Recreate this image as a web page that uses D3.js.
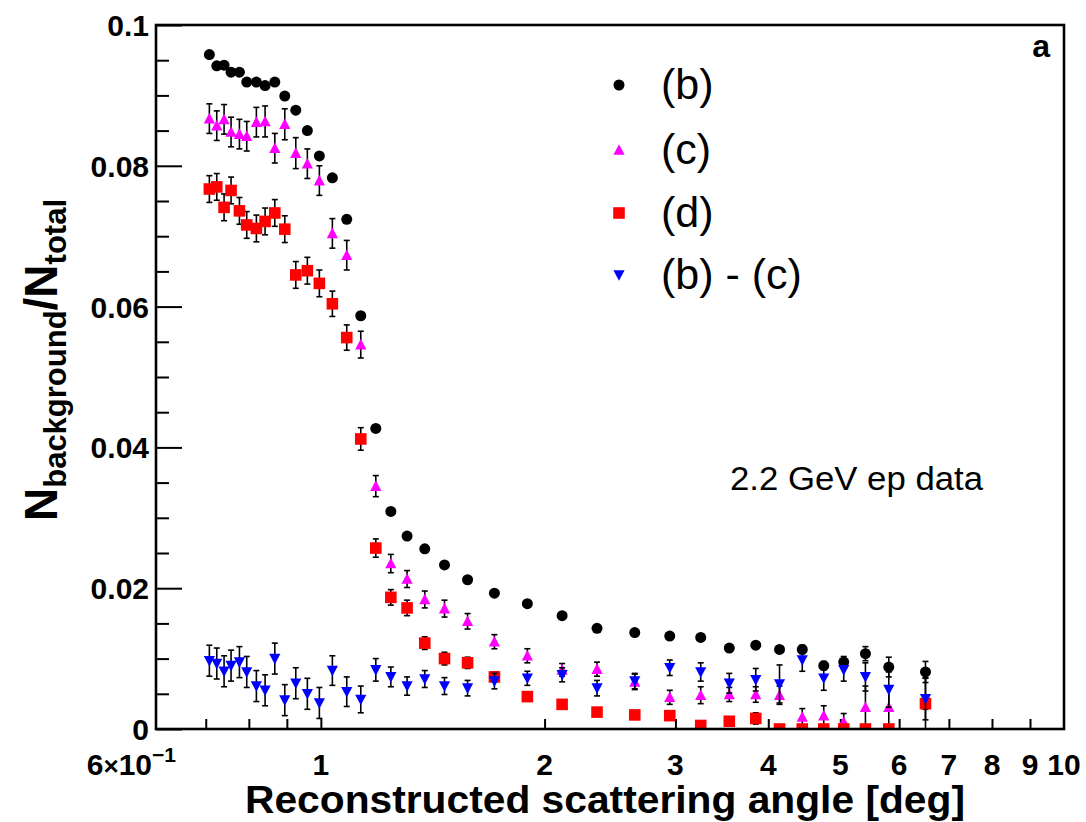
<!DOCTYPE html>
<html>
<head>
<meta charset="utf-8">
<script src="https://cdn.jsdelivr.net/npm/d3@7"></script>
<style>
  html, body { margin: 0; padding: 0; background: #fff; }
  svg { display: block; }
  text { font-family: "Liberation Sans", Arial, Helvetica, sans-serif; }
</style>
</head>
<body>
<svg id="chart" width="1086" height="822"></svg>
<script>
// Reconstructed scattering angle bins [deg]
const angles = [0.7079, 0.7243, 0.7409, 0.7571, 0.7770, 0.7948, 0.8189, 0.8413, 0.8670, 0.8942,
  0.9252, 0.9590, 0.9954, 1.0363, 1.0835, 1.1316, 1.1856, 1.2421, 1.3062, 1.3798,
  1.4668, 1.5755, 1.7122, 1.8961, 2.1117, 2.3530, 2.6448, 2.9477, 3.2445, 3.5449,
  3.8478, 4.1419, 4.4444, 4.7501, 5.0534, 5.4050, 5.8104, 6.5103];

// (b)
const ratioB = [0.0958, 0.0942, 0.0943, 0.0933, 0.0933, 0.0919, 0.0919, 0.0914, 0.0919, 0.0899,
  0.0879, 0.0850, 0.0814, 0.0783, 0.0724, 0.0587, 0.0427, 0.0309, 0.0274, 0.0256,
  0.0233, 0.0212, 0.0193, 0.0178, 0.0161, 0.0143, 0.0137, 0.0132, 0.0130, 0.0115,
  0.0119, 0.0113, 0.0113, 0.0090, 0.0095, 0.0107, 0.0088, 0.0081];
const errB = [0.0003, 0.0003, 0.0003, 0.0003, 0.0003, 0.0003, 0.0003, 0.0003, 0.0003, 0.0003,
  0.0003, 0.0003, 0.0003, 0.0003, 0.0003, 0.0003, 0.0003, 0.0003, 0.0003, 0.0003,
  0.0003, 0.0003, 0.0003, 0.0003, 0.0003, 0.0003, 0.0003, 0.0003, 0.0003, 0.0004,
  0.0004, 0.0005, 0.0006, 0.0006, 0.0008, 0.0010, 0.0014, 0.0015];

// (c)
const ratioC = [0.0867, 0.0857, 0.0866, 0.0848, 0.0845, 0.0842, 0.0862, 0.0863, 0.0825, 0.0859,
  0.0818, 0.0803, 0.0779, 0.0704, 0.0673, 0.0546, 0.0345, 0.0235, 0.0213, 0.0184,
  0.0171, 0.0153, 0.0124, 0.0104, 0.0084, 0.0085, 0.0067, 0.0045, 0.0048, 0.0049,
  0.0049, 0.0048, 0.0017, 0.0019, 0.0010, 0.0031, 0.0031, 0.0036];
const errC = [0.0021, 0.0021, 0.0021, 0.0021, 0.0021, 0.0021, 0.0021, 0.0022, 0.0021, 0.0022,
  0.0022, 0.0021, 0.0021, 0.0021, 0.0021, 0.0019, 0.0015, 0.0013, 0.0012, 0.0012,
  0.0012, 0.0011, 0.0010, 0.0010, 0.0009, 0.0010, 0.0011, 0.0010, 0.0012, 0.0010,
  0.0011, 0.0013, 0.0012, 0.0014, 0.0012, 0.0030, 0.0030, 0.0036];

// (d)
const ratioD = [0.0767, 0.0770, 0.0741, 0.0765, 0.0736, 0.0716, 0.0711, 0.0721, 0.0733, 0.0710,
  0.0645, 0.0651, 0.0633, 0.0604, 0.0556, 0.0412, 0.0257, 0.0187, 0.0172, 0.0122,
  0.0100, 0.0094, 0.0074, 0.0046, 0.0035, 0.0024, 0.0020, 0.0019, 0.0005, 0.0011,
  0.0015, 0.0000, 0.0000, 0.0000, 0.0000, 0.0000, 0.0000, 0.0036];
const errD = [0.0019, 0.0019, 0.0019, 0.0019, 0.0019, 0.0019, 0.0019, 0.0019, 0.0019, 0.0019,
  0.0019, 0.0019, 0.0019, 0.0018, 0.0018, 0.0016, 0.0013, 0.0011, 0.0011, 0.0009,
  0.0009, 0.0008, 0.0007, 0.0005, 0.0005, 0.0005, 0.0005, 0.0005, 0.0005, 0.0005,
  0.0008, 0.0004, 0.0004, 0.0004, 0.0004, 0.0004, 0.0004, 0.0008];

// (b) - (c)
const ratioBC = [0.0097, 0.0093, 0.0082, 0.0090, 0.0095, 0.0081, 0.0061, 0.0055, 0.0100, 0.0041,
  0.0065, 0.0050, 0.0037, 0.0083, 0.0053, 0.0042, 0.0084, 0.0074, 0.0061, 0.0071,
  0.0061, 0.0058, 0.0068, 0.0072, 0.0077, 0.0058, 0.0068, 0.0087, 0.0081, 0.0065,
  0.0070, 0.0064, 0.0098, 0.0072, 0.0084, 0.0074, 0.0056, 0.0043];
const errBC = [0.0022, 0.0022, 0.0022, 0.0022, 0.0022, 0.0022, 0.0022, 0.0022, 0.0022, 0.0022,
  0.0022, 0.0022, 0.0022, 0.0021, 0.0021, 0.0019, 0.0016, 0.0014, 0.0013, 0.0012,
  0.0012, 0.0011, 0.0011, 0.0010, 0.0010, 0.0011, 0.0011, 0.0011, 0.0013, 0.0014,
  0.0016, 0.0027, 0.0016, 0.0017, 0.0016, 0.0020, 0.0025, 0.0030];

const seriesNames = ["(b)", "(c)", "(d)", "(b) - (c)"];
const seriesColors = ["#000000", "#ff00ff", "#ff0000", "#0000ff"];
const seriesShapes = ["circle", "triangle", "square", "invtriangle"];
const xTickLabels = ["1", "2", "3", "4", "5", "6", "7", "8", "9", "10"];
const yTickLabels = ["0", "0.02", "0.04", "0.06", "0.08", "0.1"];

const margin = { left: 156, right: 1064, top: 25, bottom: 729 };
const svg = d3.select("#chart");

const x = d3.scaleLog().domain([0.6, 10]).range([margin.left, margin.right]);
const y = d3.scaleLinear().domain([0, 0.1]).range([margin.bottom, margin.top]);

svg.append("rect").attr("width", 1086).attr("height", 822).attr("fill", "#fff");

svg.append("defs").append("clipPath").attr("id", "plotclip")
  .append("rect")
  .attr("x", margin.left).attr("y", margin.top)
  .attr("width", margin.right - margin.left).attr("height", margin.bottom - margin.top);

// ---- axes ----
const yMinor = d3.range(0, 0.1001, 0.005);
const yAxis = d3.axisRight(y)
  .tickValues(yMinor)
  .tickFormat("")
  .tickSizeOuter(0);
const gy = svg.append("g").attr("transform", `translate(${margin.left},0)`).call(yAxis);
gy.select(".domain").remove();
gy.selectAll(".tick line")
  .attr("x2", d => (Math.round(d * 1000) % 20 === 0 ? 26 : 13))
  .attr("stroke", "#000").attr("stroke-width", 2);

const xMinor = [0.7, 0.8, 0.9, 1, 2, 3, 4, 5, 6, 7, 8, 9];
const xAxis = d3.axisTop(x).tickValues(xMinor).tickFormat("").tickSizeOuter(0);
const gx = svg.append("g").attr("transform", `translate(0,${margin.bottom})`).call(xAxis);
gx.select(".domain").remove();
gx.selectAll(".tick line").attr("y2", -10).attr("stroke", "#000").attr("stroke-width", 2);

// y tick labels
svg.append("g").selectAll("text")
  .data(yTickLabels)
  .join("text")
  .attr("x", 149)
  .attr("y", d => y(+d) + 11)
  .attr("text-anchor", "end")
  .attr("font-weight", "bold")
  .attr("font-size", 30)
  .text(d => d);

// x tick labels
svg.append("g").selectAll("text")
  .data(xTickLabels)
  .join("text")
  .attr("x", d => x(+d))
  .attr("y", 775)
  .attr("text-anchor", "middle")
  .attr("font-weight", "bold")
  .attr("font-size", 30)
  .text(d => d);

// leftmost label 6x10^-1
const lab0 = svg.append("text")
  .attr("x", 176).attr("y", 775)
  .attr("text-anchor", "end")
  .attr("font-weight", "bold").attr("font-size", 30);
lab0.append("tspan").text("6");
lab0.append("tspan").attr("font-size", 26).text("\u00d7");
lab0.append("tspan").text("10");
lab0.append("tspan").attr("font-size", 21).attr("dy", -13).text("\u22121");

// axis titles
svg.append("text")
  .attr("x", 605)
  .attr("y", 813)
  .attr("text-anchor", "middle")
  .attr("font-weight", "bold")
  .attr("font-size", 39)
  .attr("textLength", 720)
  .attr("lengthAdjust", "spacingAndGlyphs")
  .text("Reconstructed scattering angle [deg]");

const yt = svg.append("text")
  .attr("transform", `translate(57,360) rotate(-90)`)
  .attr("text-anchor", "middle")
  .attr("font-weight", "bold")
  .attr("font-size", 46);
yt.append("tspan").text("N");
yt.append("tspan").attr("font-size", 31).attr("dy", 9).text("background");
yt.append("tspan").attr("dy", -9).text("/N");
yt.append("tspan").attr("font-size", 31).attr("dy", 9).text("total");

// ---- markers ----
const symbolFor = {
  circle: () => d3.symbol(d3.symbolCircle, 95)(),
  square: () => "M-5.8,-5.8H5.8V5.8H-5.8Z",
  triangle: () => "M0,-5.8L5.6,4.8L-5.6,4.8Z",
  invtriangle: () => "M0,5.8L5.6,-4.8L-5.6,-4.8Z"
};

const seriesData = [
  { vals: ratioB, errs: errB },
  { vals: ratioC, errs: errC },
  { vals: ratioD, errs: errD },
  { vals: ratioBC, errs: errBC }
];

const plot = svg.append("g").attr("clip-path", "url(#plotclip)");

seriesData.forEach((s, si) => {
  const pts = angles.map((a, i) => ({ a, v: s.vals[i], e: s.errs[i] }));
  const g = plot.append("g");
  // error bars
  const eb = g.append("g").attr("stroke", "#000").attr("stroke-width", 1.6);
  eb.selectAll("line.v").data(pts).join("line").attr("class", "v")
    .attr("x1", d => x(d.a)).attr("x2", d => x(d.a))
    .attr("y1", d => y(d.v - d.e)).attr("y2", d => y(d.v + d.e));
  eb.selectAll("line.t").data(pts).join("line").attr("class", "t")
    .attr("x1", d => x(d.a) - 3).attr("x2", d => x(d.a) + 3)
    .attr("y1", d => y(d.v + d.e)).attr("y2", d => y(d.v + d.e));
  eb.selectAll("line.b").data(pts).join("line").attr("class", "b")
    .attr("x1", d => x(d.a) - 3).attr("x2", d => x(d.a) + 3)
    .attr("y1", d => y(d.v - d.e)).attr("y2", d => y(d.v - d.e));
  // markers
  g.selectAll("path.m").data(pts).join("path").attr("class", "m")
    .attr("d", symbolFor[seriesShapes[si]]())
    .attr("transform", d => `translate(${x(d.a)},${y(d.v)})`)
    .attr("fill", seriesColors[si]);
});

// frame
svg.append("rect")
  .attr("x", margin.left).attr("y", margin.top)
  .attr("width", margin.right - margin.left).attr("height", margin.bottom - margin.top)
  .attr("fill", "none").attr("stroke", "#000").attr("stroke-width", 2.6);

// ---- legend ----
const legendY = [85, 150, 213, 275];
const leg = svg.append("g");
seriesNames.forEach((name, i) => {
  leg.append("path")
    .attr("d", symbolFor[seriesShapes[i]]())
    .attr("transform", `translate(619,${legendY[i]})`)
    .attr("fill", seriesColors[i]);
  leg.append("text")
    .attr("x", 661).attr("y", legendY[i] + 14)
    .attr("font-size", 43)
    .text(name);
});

// annotations
svg.append("text")
  .attr("x", 730).attr("y", 490)
  .attr("font-size", 33)
  .attr("textLength", 253)
  .attr("lengthAdjust", "spacingAndGlyphs")
  .text("2.2 GeV ep data");

svg.append("text")
  .attr("x", 1050).attr("y", 57)
  .attr("text-anchor", "end")
  .attr("font-weight", "bold")
  .attr("font-size", 32)
  .text("a");
</script>
</body>
</html>
